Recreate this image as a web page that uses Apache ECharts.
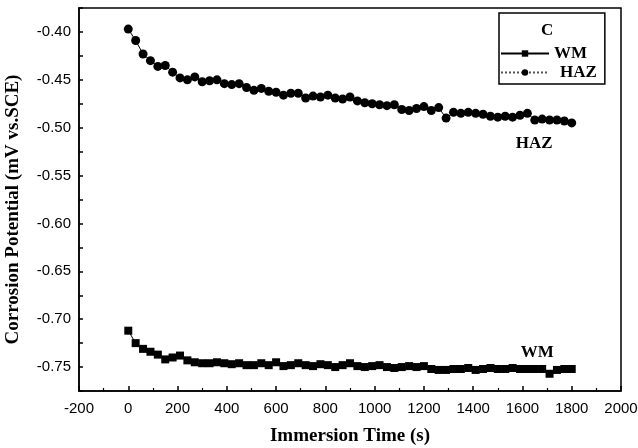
<!DOCTYPE html>
<html>
<head>
<meta charset="utf-8">
<script src="https://cdn.jsdelivr.net/npm/echarts@6/dist/echarts.min.js"></script>
<style>
  html, body { margin: 0; padding: 0; background: #fff; }
</style>
</head>
<body>
<div id="chart" style="width: 638px; height: 448px"></div>
<script>
// time axis, one reading every 30 s
const times = [];
for (let t = 0; t <= 1800; t += 30) times.push(t);

// (V vs. SCE)
const wm = [
  -0.712, -0.725, -0.731, -0.734, -0.737, -0.742, -0.740, -0.738, -0.743, -0.745,
  -0.746, -0.746, -0.745, -0.746, -0.747, -0.746, -0.748, -0.748, -0.746, -0.748,
  -0.745, -0.749, -0.748, -0.746, -0.748, -0.749, -0.747, -0.748, -0.750, -0.748,
  -0.746, -0.749, -0.750, -0.749, -0.748, -0.750, -0.751, -0.750, -0.749, -0.750,
  -0.749, -0.752, -0.753, -0.753, -0.752, -0.752, -0.751, -0.753, -0.752, -0.751,
  -0.752, -0.752, -0.751, -0.752, -0.752, -0.752, -0.752, -0.757, -0.753, -0.752,
  -0.752,
];
const haz = [
  -0.397, -0.409, -0.423, -0.430, -0.436, -0.435, -0.442, -0.448, -0.450, -0.447,
  -0.452, -0.451, -0.450, -0.454, -0.455, -0.454, -0.458, -0.461, -0.459, -0.462,
  -0.463, -0.466, -0.464, -0.464, -0.469, -0.467, -0.468, -0.466, -0.469, -0.470,
  -0.468, -0.472, -0.474, -0.475, -0.476, -0.477, -0.476, -0.481, -0.482, -0.480,
  -0.478, -0.482, -0.479, -0.490, -0.484, -0.485, -0.484, -0.485, -0.486, -0.488,
  -0.489, -0.488, -0.489, -0.487, -0.485, -0.492, -0.491, -0.492, -0.492, -0.493,
  -0.495,
];

const labelFont = "Liberation Sans";
const titleFont = "Liberation Serif";

const chart = echarts.init(document.getElementById("chart"));

const toPairs = (ys) => times.map((t, i) => [t, ys[i]]);

// text label sitting on the chart at a data position
const tag = (text, coord) => ({
  symbol: "rect",
  symbolSize: 1,
  itemStyle: { color: "rgba(0,0,0,0)" },
  label: {
    show: true,
    position: "inside",
    formatter: text,
    fontFamily: titleFont,
    fontWeight: "bold",
    fontSize: 17,
    color: "#000",
  },
  data: [{ coord: coord }],
});

const option = {
  backgroundColor: "#fff",
  animation: false,
  title: {
    text: "C",
    left: 536,
    top: 17,
    textStyle: { fontFamily: titleFont, fontWeight: "bold", fontSize: 17, color: "#000" },
  },
  legend: {
    orient: "vertical",
    left: 499,
    top: 13,
    padding: [32, 8, 3, 1],
    itemGap: 2,
    itemWidth: 48,
    itemHeight: 8,
    borderColor: "#000",
    borderWidth: 1.5,
    textStyle: { fontFamily: titleFont, fontWeight: "bold", fontSize: 17, color: "#000" },
    data: [
      { name: "WM" },
      {
        name: "HAZ",
        lineStyle: { type: "dotted", color: "#555" },
        textStyle: { padding: [0, 0, 0, 6] },
      },
    ],
  },
  grid: {
    left: 79,
    right: 17,
    top: 8,
    bottom: 57,
    outerBoundsMode: "none",
    show: true,
    borderColor: "#000",
    borderWidth: 1.5,
  },
  xAxis: {
    type: "value",
    min: -200,
    max: 2000,
    interval: 200,
    name: "Immersion Time (s)",
    nameLocation: "middle",
    nameGap: 36,
    nameTextStyle: { fontFamily: titleFont, fontWeight: "bold", fontSize: 19, color: "#000" },
    axisLine: { onZero: false, lineStyle: { color: "#000", width: 1.5 } },
    axisTick: { inside: true, length: 5, lineStyle: { color: "#000", width: 1.5 } },
    minorTick: { show: true, splitNumber: 2, length: 3, lineStyle: { color: "#000", width: 1.2 } },
    axisLabel: {
      fontFamily: labelFont,
      fontSize: 15,
      color: "#000",
      margin: 10,
      formatter: (v) => String(v),
    },
    splitLine: { show: false },
  },
  yAxis: {
    type: "value",
    min: -0.775,
    max: -0.375,
    interval: 0.025,
    name: "Corrosion Potential (mV vs.SCE)",
    nameLocation: "middle",
    nameGap: 56,
    nameTextStyle: {
      fontFamily: titleFont,
      fontWeight: "bold",
      fontSize: 19,
      color: "#000",
      padding: [0, 20, 0, 0],
    },
    axisLine: { onZero: false, lineStyle: { color: "#000", width: 1.5 } },
    axisTick: { inside: true, length: 4, lineStyle: { color: "#000", width: 1.5 } },
    axisLabel: {
      fontFamily: labelFont,
      fontSize: 15,
      color: "#000",
      margin: 8,
      formatter: (v) => (Math.round(v * 1000) % 50 === 0 ? v.toFixed(2) : ""),
    },
    splitLine: { show: false },
  },
  series: [
    {
      name: "WM",
      type: "line",
      data: toPairs(wm),
      symbol: "rect",
      symbolSize: 8,
      showAllSymbol: true,
      lineStyle: { color: "#000", width: 1 },
      itemStyle: { color: "#000" },
      markPoint: tag("WM", [1660, -0.7347]),
    },
    {
      name: "HAZ",
      type: "line",
      data: toPairs(haz),
      symbol: "circle",
      symbolSize: 9,
      showAllSymbol: true,
      lineStyle: { color: "#000", width: 1 },
      itemStyle: { color: "#000" },
      markPoint: tag("HAZ", [1648, -0.5163]),
    },
  ],
};

chart.setOption(option);
</script>
</body>
</html>
